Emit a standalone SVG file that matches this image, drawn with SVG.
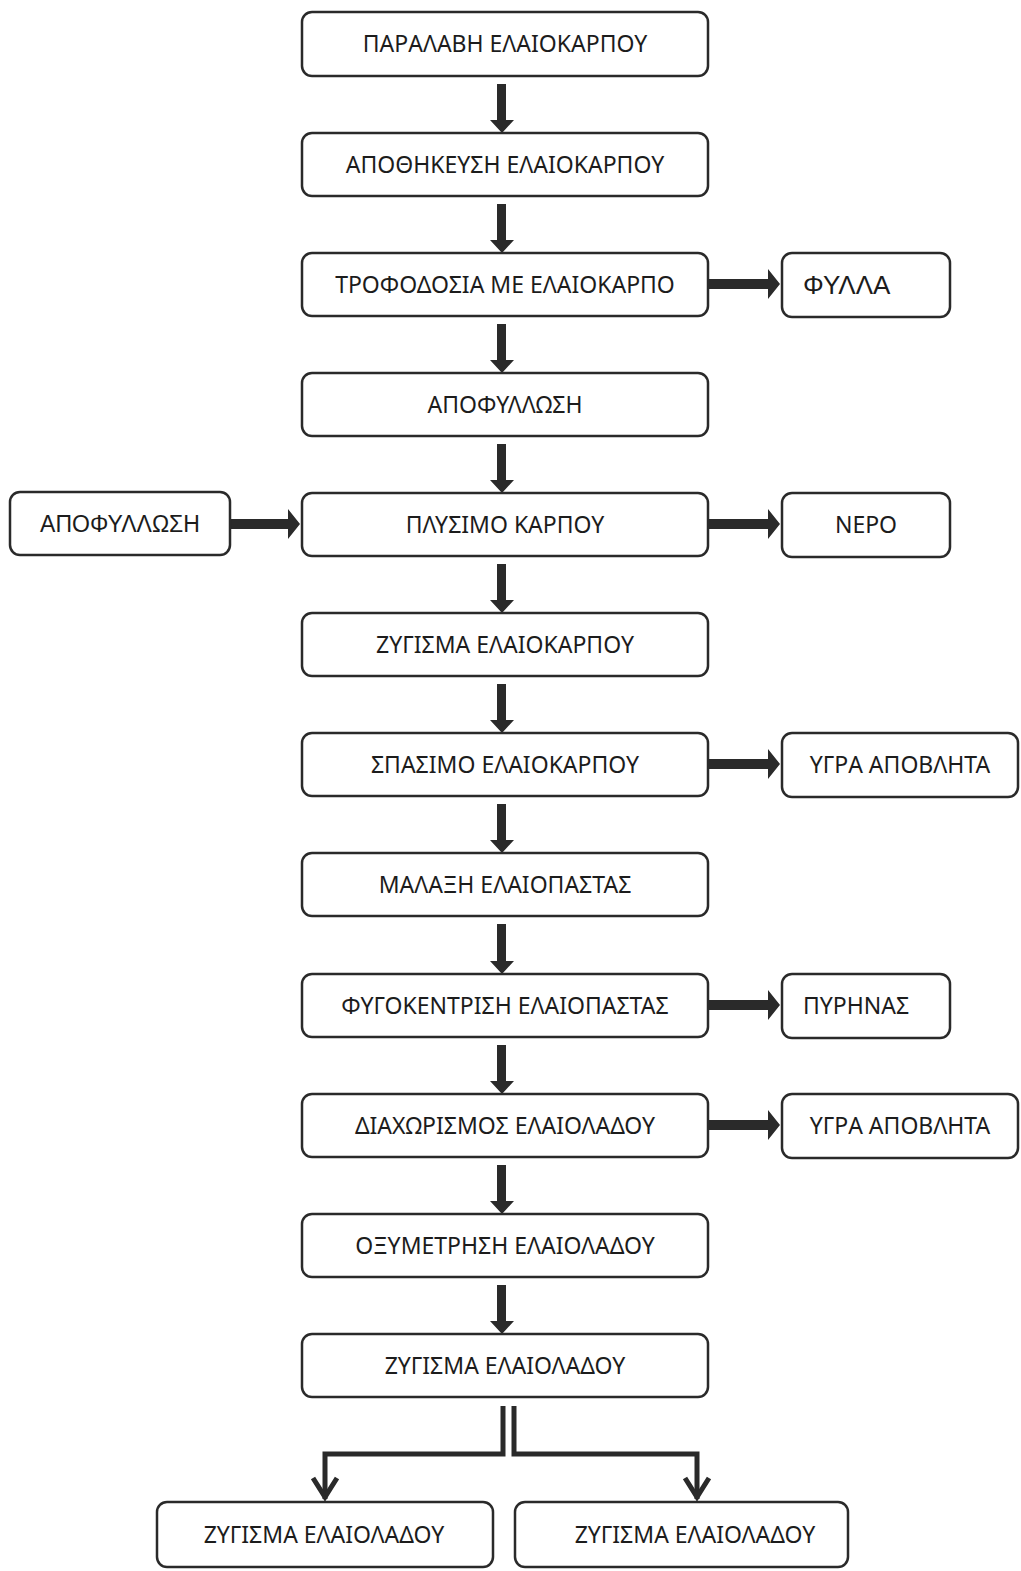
<svg xmlns="http://www.w3.org/2000/svg" width="1021" height="1571" viewBox="0 0 1021 1571">
<style>
.box{fill:#fff;stroke:#2a2a2a;stroke-width:2.5}
.t{font-family:"Noto Sans","Open Sans",sans-serif;font-size:23px;fill:#1c1c1c;text-anchor:middle}
.ta{font-family:"Liberation Sans",Arial,sans-serif;font-size:23px;fill:#1c1c1c;text-anchor:middle}
.ar{fill:#2a2a2a}
.ln{fill:none;stroke:#2a2a2a;stroke-width:5}
</style>
<rect width="1021" height="1571" fill="#fff"/>
<g id="connectors">
<g id="down">
<path class="ar" d="M497,84h9v36h8l-12,13l-12,-13h7z"/>
<path class="ar" d="M497,204h9v36h8l-12,13l-12,-13h7z"/>
<path class="ar" d="M497,324h9v36h8l-12,13l-12,-13h7z"/>
<path class="ar" d="M497,444h9v36h8l-12,13l-12,-13h7z"/>
<path class="ar" d="M497,564h9v36h8l-12,13l-12,-13h7z"/>
<path class="ar" d="M497,684h9v36h8l-12,13l-12,-13h7z"/>
<path class="ar" d="M497,804h9v36h8l-12,13l-12,-13h7z"/>
<path class="ar" d="M497,924h9v37h8l-12,13l-12,-13h7z"/>
<path class="ar" d="M497,1045h9v36h8l-12,13l-12,-13h7z"/>
<path class="ar" d="M497,1165h9v36h8l-12,13l-12,-13h7z"/>
<path class="ar" d="M497,1285h9v36h8l-12,13l-12,-13h7z"/>
</g>
<g id="side">
<path class="ar" d="M708,279h60v-10l12,15l-12,15v-10h-60z"/>
<path class="ar" d="M708,519h60v-10l12,15l-12,15v-10h-60z"/>
<path class="ar" d="M708,759h60v-10l12,15l-12,15v-10h-60z"/>
<path class="ar" d="M708,1000h60v-10l12,15l-12,15v-10h-60z"/>
<path class="ar" d="M708,1120h60v-10l12,15l-12,15v-10h-60z"/>
<path class="ar" d="M230,519h58v-10l12,15l-12,15v-10h-58z"/>
</g>
<g id="split">
<polyline class="ln" points="503,1406 503,1454 325,1454 325,1499"/>
<polyline class="ln" points="514,1406 514,1454 697,1454 697,1499"/>
<polyline class="ln" points="313,1478 325,1497 337,1478"/>
<polyline class="ln" points="685,1478 697,1497 709,1478"/>
</g>
</g>
<g id="n1"><rect class="box" x="302" y="12" width="406" height="64" rx="10"/><text class="t" x="505" y="52">ΠΑΡΑΛΑΒΗ ΕΛΑΙΟΚΑΡΠΟΥ</text></g>
<g id="n2"><rect class="box" x="302" y="133" width="406" height="63" rx="10"/><text class="t" x="505" y="173">ΑΠΟΘΗΚΕΥΣΗ ΕΛΑΙΟΚΑΡΠΟΥ</text></g>
<g id="n3"><rect class="box" x="302" y="253" width="406" height="63" rx="10"/><text class="t" x="505" y="293">ΤΡΟΦΟΔΟΣΙΑ ΜΕ ΕΛΑΙΟΚΑΡΠΟ</text></g>
<g id="n4"><rect class="box" x="302" y="373" width="406" height="63" rx="10"/><text class="t" x="505" y="413">ΑΠΟΦΥΛΛΩΣΗ</text></g>
<g id="n5"><rect class="box" x="302" y="493" width="406" height="63" rx="10"/><text class="t" x="505" y="533">ΠΛΥΣΙΜΟ ΚΑΡΠΟΥ</text></g>
<g id="n6"><rect class="box" x="302" y="613" width="406" height="63" rx="10"/><text class="t" x="505" y="653">ΖΥΓΙΣΜΑ ΕΛΑΙΟΚΑΡΠΟΥ</text></g>
<g id="n7"><rect class="box" x="302" y="733" width="406" height="63" rx="10"/><text class="t" x="505" y="773">ΣΠΑΣΙΜΟ ΕΛΑΙΟΚΑΡΠΟΥ</text></g>
<g id="n8"><rect class="box" x="302" y="853" width="406" height="63" rx="10"/><text class="t" x="505" y="893">ΜΑΛΑΞΗ ΕΛΑΙΟΠΑΣΤΑΣ</text></g>
<g id="n9"><rect class="box" x="302" y="974" width="406" height="63" rx="10"/><text class="t" x="505" y="1014">ΦΥΓΟΚΕΝΤΡΙΣΗ ΕΛΑΙΟΠΑΣΤΑΣ</text></g>
<g id="n10"><rect class="box" x="302" y="1094" width="406" height="63" rx="10"/><text class="t" x="505" y="1134">ΔΙΑΧΩΡΙΣΜΟΣ ΕΛΑΙΟΛΑΔΟΥ</text></g>
<g id="n11"><rect class="box" x="302" y="1214" width="406" height="63" rx="10"/><text class="t" x="505" y="1254">ΟΞΥΜΕΤΡΗΣΗ ΕΛΑΙΟΛΑΔΟΥ</text></g>
<g id="n12"><rect class="box" x="302" y="1334" width="406" height="63" rx="10"/><text class="t" x="505" y="1374">ΖΥΓΙΣΜΑ ΕΛΑΙΟΛΑΔΟΥ</text></g>
<g id="s1"><rect class="box" x="782" y="253" width="168" height="64" rx="10"/><text class="ta" x="803" y="294" style="text-anchor:start;font-size:26px">ΦΥΛΛΑ</text></g>
<g id="s2"><rect class="box" x="782" y="493" width="168" height="64" rx="10"/><text class="t" x="866" y="533">ΝΕΡΟ</text></g>
<g id="s3"><rect class="box" x="782" y="733" width="236" height="64" rx="10"/><text class="t" x="900" y="773">ΥΓΡΑ ΑΠΟΒΛΗΤΑ</text></g>
<g id="s4"><rect class="box" x="782" y="974" width="168" height="64" rx="10"/><text class="t" x="803" y="1014" style="text-anchor:start">ΠΥΡΗΝΑΣ</text></g>
<g id="s5"><rect class="box" x="782" y="1094" width="236" height="64" rx="10"/><text class="t" x="900" y="1134">ΥΓΡΑ ΑΠΟΒΛΗΤΑ</text></g>
<g id="l1"><rect class="box" x="10" y="492" width="220" height="63" rx="10"/><text class="ta" x="120" y="532">ΑΠΟΦΥΛΛΩΣΗ</text></g>
<g id="b1"><rect class="box" x="157" y="1502" width="336" height="65" rx="10"/><text class="t" x="324" y="1543">ΖΥΓΙΣΜΑ ΕΛΑΙΟΛΑΔΟΥ</text></g>
<g id="b2"><rect class="box" x="515" y="1502" width="333" height="65" rx="10"/><text class="t" x="695" y="1543">ΖΥΓΙΣΜΑ ΕΛΑΙΟΛΑΔΟΥ</text></g>
</svg>
